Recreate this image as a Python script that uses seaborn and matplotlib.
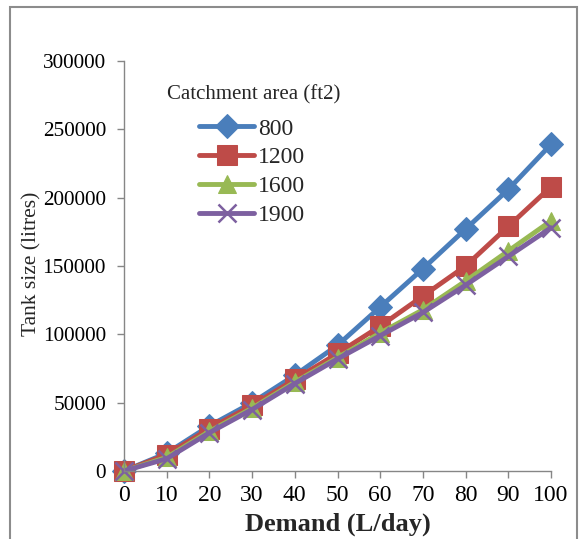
import matplotlib
matplotlib.use("Agg")
import matplotlib.pyplot as plt
import seaborn as sns
import pandas as pd
from matplotlib.patches import Rectangle

demand = [0, 10, 20, 30, 40, 50, 60, 70, 80, 90, 100]
area_800 = [0, 13000, 33000, 50000, 70000, 92000, 120000, 148000, 177000, 206000, 239000]
area_1200 = [0, 12000, 31000, 48000, 67000, 86000, 106000, 128000, 150000, 179000, 208000]
area_1600 = [0, 10000, 29000, 46000, 65000, 83000, 101000, 118000, 139000, 161000, 183000]
area_1900 = [0, 9000, 28000, 45000, 64000, 82000, 99000, 116000, 136000, 157000, 178000]
series_names = ["800", "1200", "1600", "1900"]
y_ticks = [0, 50000, 100000, 150000, 200000, 250000, 300000]

sns.set_theme(style="white")
plt.rcParams['font.family'] = ['Liberation Serif', 'DejaVu Serif']

W, H = 586, 539
fig = plt.figure(figsize=(W/100, H/100), dpi=100)
ax = fig.add_axes([124/W, 1-471/H, (551-124)/W, (471-61)/H])

colors = ["#4A7EBB", "#BE4B48", "#98B954", "#7D60A0"]
markers = ["D", "s", "^", "x"]
msizes = [12, 14, 13, 13]
mew = [0.75, 0.75, 0.75, 1.8]
data = [area_800, area_1200, area_1600, area_1900]
for name, vals, c, m, ms, ew in zip(series_names, data, colors, markers, msizes, mew):
    df = pd.DataFrame({"Demand": demand, "Tank": vals})
    sns.lineplot(data=df, x="Demand", y="Tank", ax=ax, color=c, marker=m,
                 markersize=ms, linewidth=3.5, label=name, clip_on=False,
                 markeredgecolor=c, markeredgewidth=ew)

ax.set_xlim(0, 100)
ax.set_ylim(0, 300000)
ax.set_xticks(demand)
ax.set_yticks(y_ticks)
ax.set_xticklabels([str(d) for d in demand], fontsize=17)
ax.set_yticklabels([str(v) for v in y_ticks], fontsize=15.3)
for s in ["top", "right"]:
    ax.spines[s].set_visible(False)
for s in ["left", "bottom"]:
    ax.spines[s].set_color("#868686")
    ax.spines[s].set_linewidth(1)
ax.tick_params(axis="both", direction="out", length=5, color="#868686", width=1,
               bottom=True, left=True, colors="#868686", labelcolor="black")
ax.tick_params(axis="x", pad=5)
ax.tick_params(axis="y", pad=8)
ax.set_xlabel("Demand (L/day)", fontsize=19, fontweight="bold")
ax.xaxis.set_label_coords(0.5, (471-524)/410)
ax.xaxis.label.set_va("center")
ax.set_ylabel("Tank size (litres)", fontsize=15.5)
ax.yaxis.set_label_coords((32-124)/427, (471-264)/410)
ax.yaxis.label.set_va("center")

fig.text(167/W, 1-95/H, "Catchment area (ft2)", fontsize=15, ha="left", va="center")
leg = ax.legend(loc="upper left", bbox_to_anchor=(199/W, 1-118/H),
                bbox_transform=fig.transFigure, frameon=False, fontsize=17,
                handlelength=2.35, handletextpad=0.15, labelspacing=0.31,
                borderpad=0, borderaxespad=0)
fig.patches.append(Rectangle((10/W, -0.1), (577-10)/W, 1.1 - 7/H,
                             transform=fig.transFigure, fill=False,
                             edgecolor="#8c8c8c", linewidth=1.5))
fig.savefig("out.png", dpi=100)
